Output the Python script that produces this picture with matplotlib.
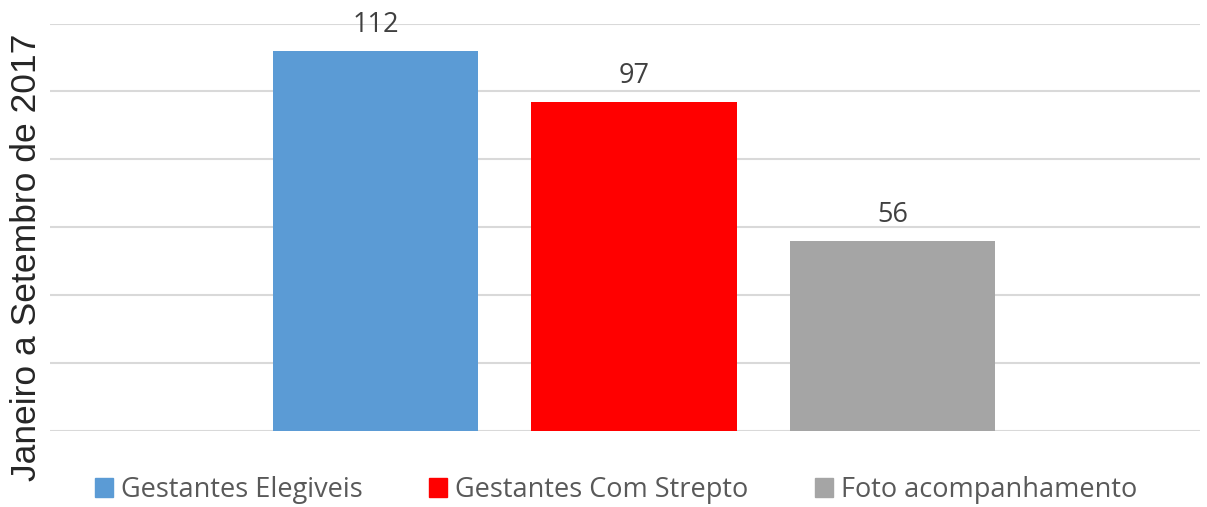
import matplotlib.pyplot as plt
from matplotlib.patches import Patch

# dados
series = ['Gestantes Elegiveis', 'Gestantes Com Strepto', 'Foto acompanhamento']
valores = [112, 97, 56]
cores = ['#5B9BD5', '#FF0000', '#A5A5A5']
yticks = [0, 20, 40, 60, 80, 100, 120]

fig = plt.figure(figsize=(12.07, 5.07), dpi=100)
ax = fig.add_axes([50 / 1207, 1 - 431 / 507, 1150 / 1207, (431 - 23.5) / 507])

x = range(len(valores))
ax.bar(x, valores, width=0.795, color=cores, zorder=3)
for xi, v in zip(x, valores):
    ax.annotate(str(v), (xi, v), xytext=(0, 13.7), textcoords='offset points',
                ha='center', va='baseline', fontsize=19.5,
                family='Open Sans', color='#404040')

ax.set_ylim(0, 120)
ax.set_xlim(-1.26, 3.19)
ax.set_yticks(yticks)
ax.set_yticklabels([])
ax.tick_params(left=False, bottom=False, labelbottom=False)
ax.grid(axis='y', color='#D9D9D9', linewidth=1.5, zorder=0)
for s in ax.spines.values():
    s.set_visible(False)

fig.text(27 / 1207, 1 - 257 / 507, 'Janeiro a Setembro de 2017', rotation=90,
         ha='center', va='center', fontsize=25.5, family='Liberation Sans', color='#262626')

handles = [Patch(color=c, label=s) for c, s in zip(cores, series)]
fig.legend(handles=handles, loc='center', bbox_to_anchor=(616 / 1207, 1 - 490 / 507),
           ncol=3, frameon=False, prop={'family': 'Open Sans', 'size': 19.5},
           labelcolor='#595959', handlelength=0.66, handleheight=0.66,
           handletextpad=0.3, columnspacing=2.45)

fig.savefig('out.png', dpi=100)
